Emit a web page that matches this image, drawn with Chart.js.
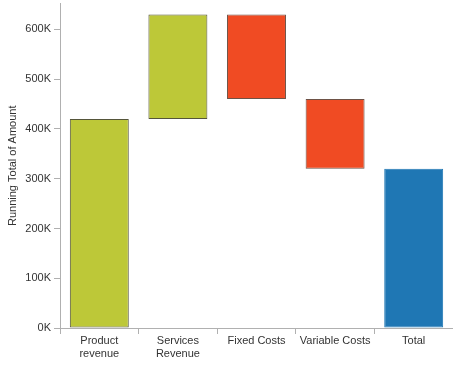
<!DOCTYPE html>
<html>
<head>
<meta charset="utf-8">
<script src="https://cdn.jsdelivr.net/npm/chart.js@4"></script>
<style>
  html, body { margin: 0; padding: 0; background: #fff; }
  #wrap { width: 453px; height: 365px; }
</style>
</head>
<body>
<div id="wrap"><canvas id="chWaterfall"></canvas></div>
<script>
// waterfall data
var categories = [['Product', 'revenue'], ['Services', 'Revenue'], 'Fixed Costs', 'Variable Costs', 'Total'];
var amounts = [420000, 210000, -170000, -140000];
var yTicks = [0, 100000, 200000, 300000, 400000, 500000, 600000];

var colors = { up: '#bdc838', down: '#f04b23', total: '#1f77b4' };

// build floating bars from the running total
var bars = [], fills = [], borders = [];
var run = 0;
amounts.forEach(function (a) {
  bars.push([run, run + a]);
  run += a;
  fills.push(a >= 0 ? colors.up : colors.down);
  borders.push(a >= 0 ? '#55553a' : '#6e5246');
});
bars.push([0, run]);
fills.push(colors.total);
borders.push(colors.total);

Chart.defaults.font.family = 'Liberation Sans, Arial, sans-serif';
Chart.defaults.font.size = 11;
Chart.defaults.color = '#333333';

var ctx = document.getElementById('chWaterfall');
new Chart(ctx, {
  type: 'bar',
  data: {
    labels: categories,
    datasets: [{
      data: bars,
      backgroundColor: fills,
      borderColor: borders,
      borderWidth: 1,
      borderSkipped: false,
      inflateAmount: 0,
      categoryPercentage: 0.75,
      barPercentage: 1
    }]
  },
  options: {
    responsive: true,
    maintainAspectRatio: false,
    animation: false,
    layout: { padding: 0 },
    plugins: { legend: { display: false }, tooltip: { enabled: false } },
    scales: {
      x: {
        grid: { offset: true, drawOnChartArea: false, color: '#b0b0b0', tickLength: 6 },
        border: { color: '#b0b0b0' },
        ticks: { padding: 0, maxRotation: 0, autoSkip: false },
        afterFit: function (s) { s.height = 37; }
      },
      y: {
        min: 0,
        max: 652000,
        grid: { drawOnChartArea: false, color: '#b0b0b0', tickLength: 6 },
        border: { color: '#b0b0b0' },
        ticks: {
          stepSize: 100000,
          padding: 3,
          font: { lineHeight: 0.1 },
          callback: function (v) { return (v / 1000) + 'K'; }
        },
        afterBuildTicks: function (s) {
          s.ticks = yTicks.map(function (v) { return { value: v }; });
        },
        title: { display: true, text: 'Running Total of Amount', padding: { top: 6, bottom: 0 } },
        afterFit: function (s) { s.width = 60; }
      }
    }
  }
});
</script>
</body>
</html>
